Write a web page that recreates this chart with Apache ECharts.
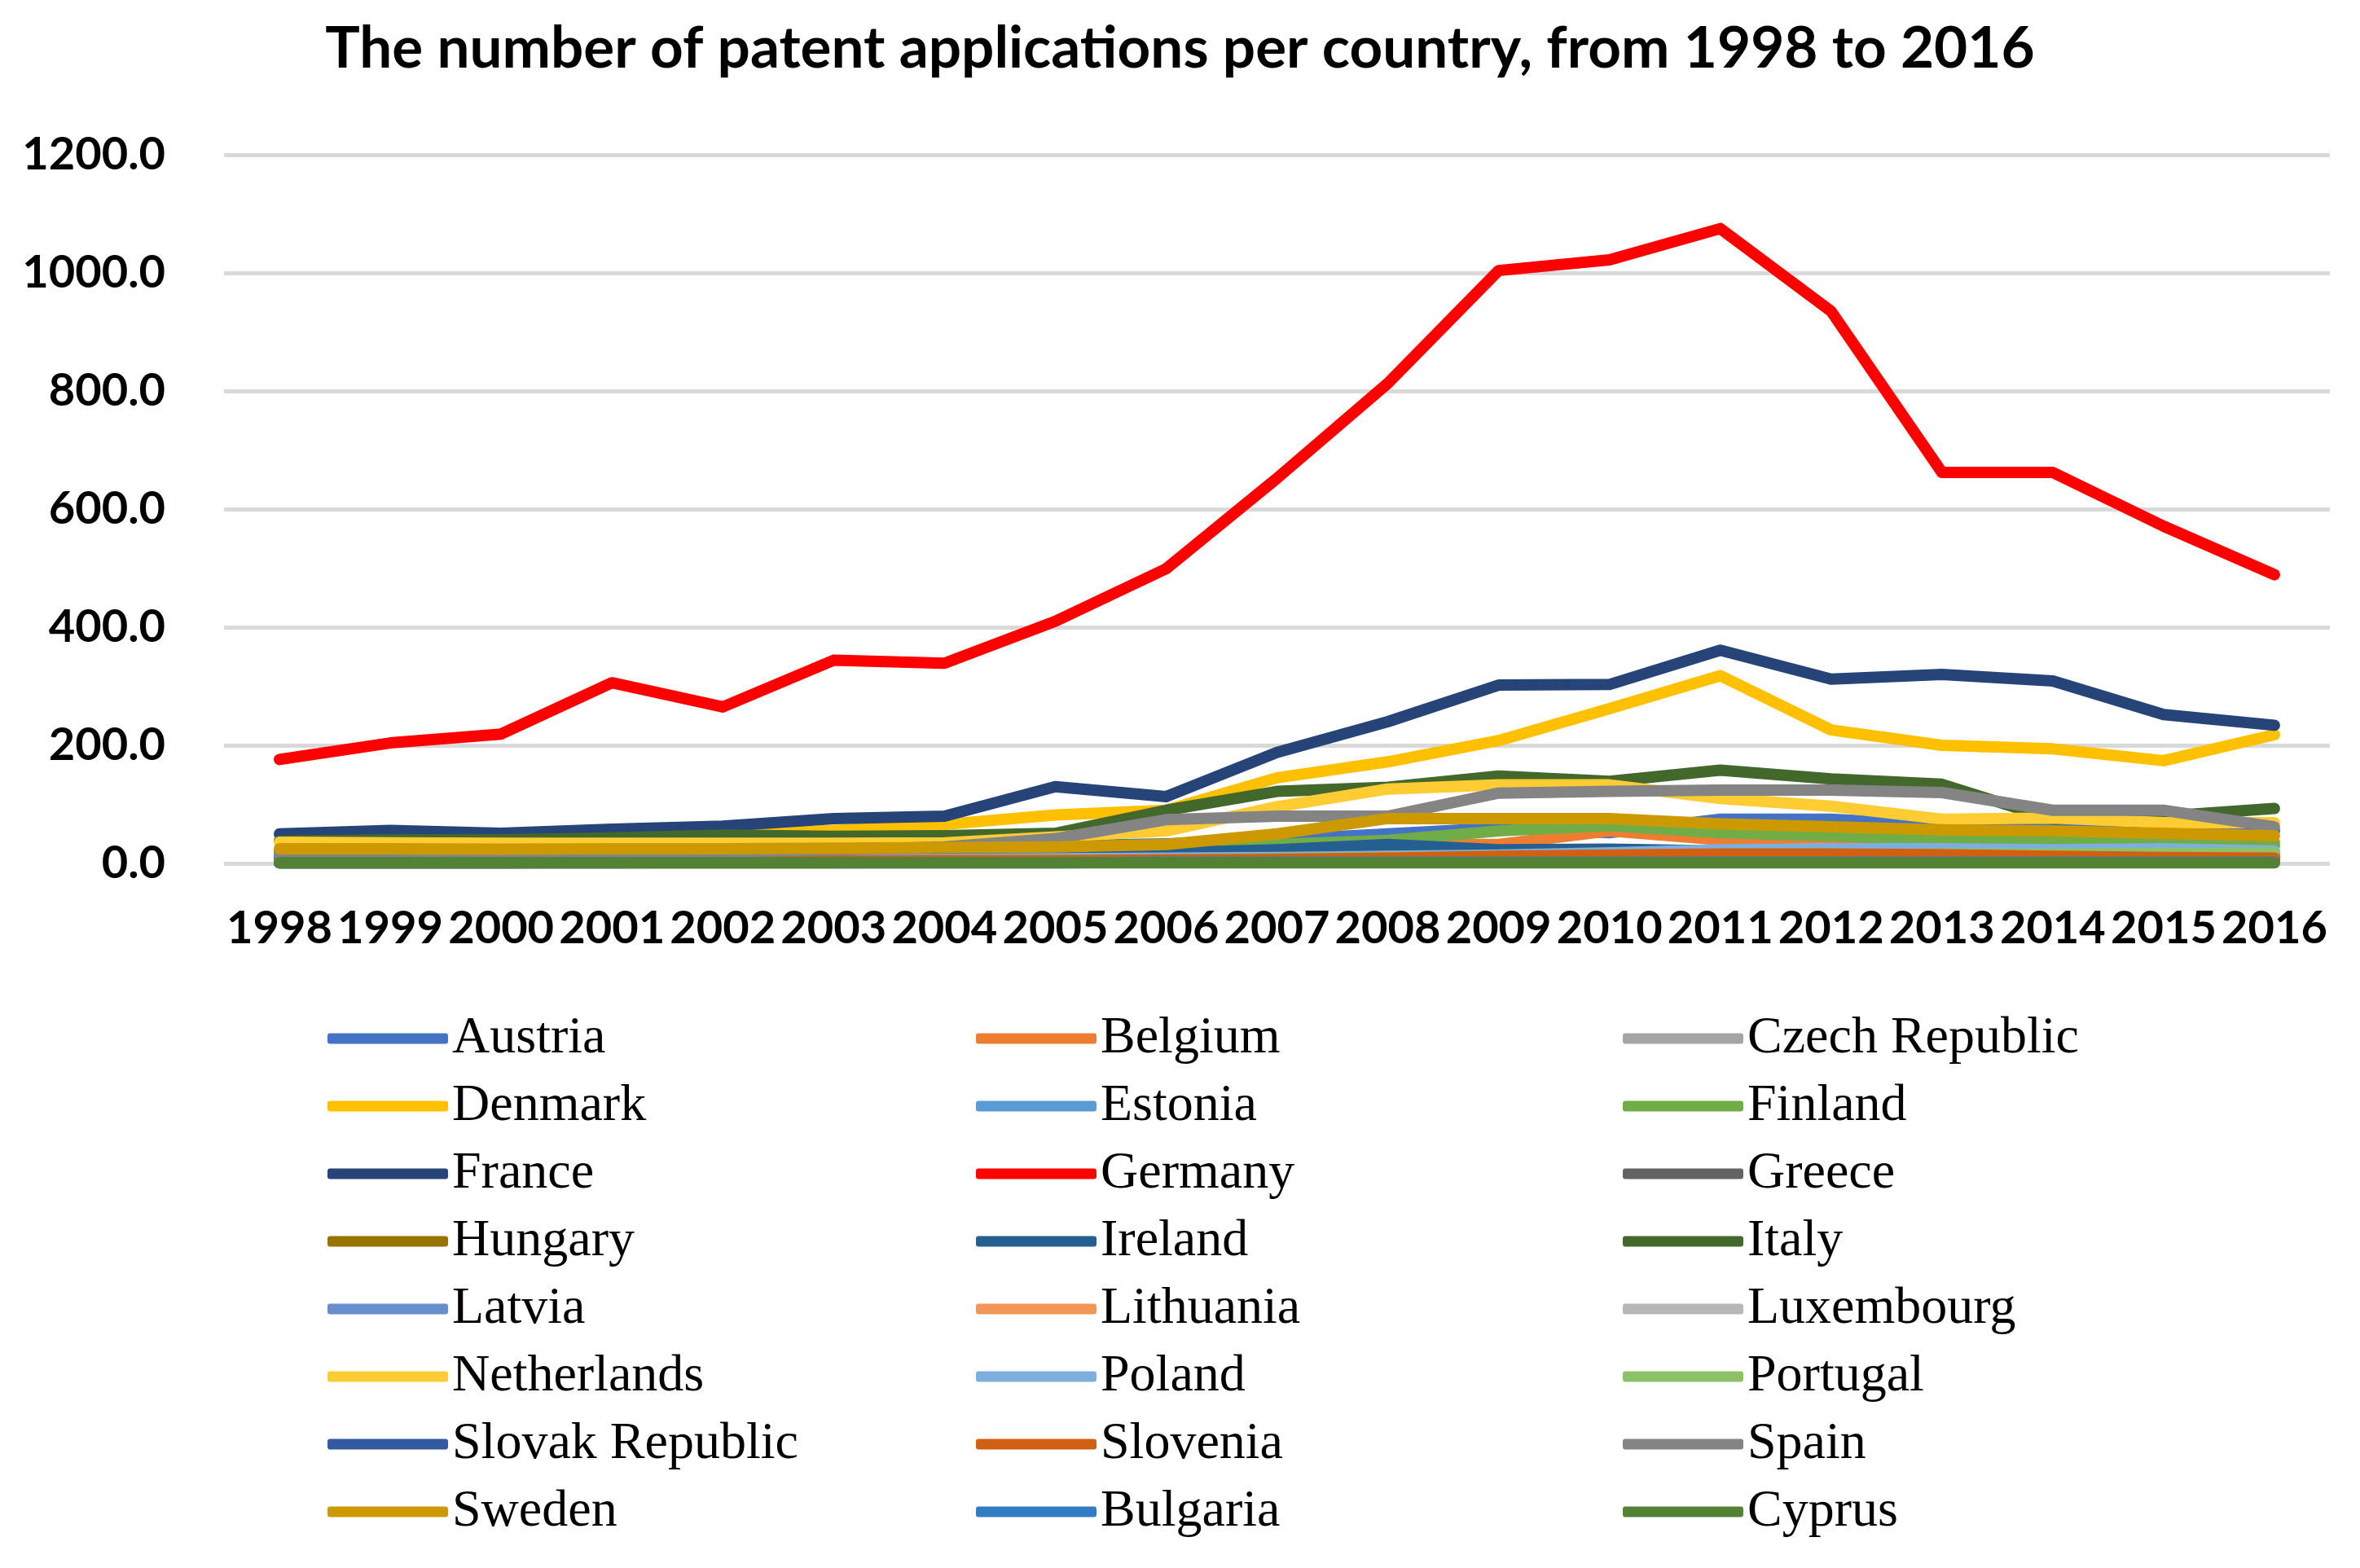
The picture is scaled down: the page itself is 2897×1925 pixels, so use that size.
<!DOCTYPE html>
<html>
<head>
<meta charset="utf-8">
<script src="https://cdn.jsdelivr.net/npm/echarts@6/dist/echarts.min.js"></script>
<style>html,body{margin:0;padding:0;background:#fff}#c{width:2897px;height:1925px}</style>
</head>
<body>
<div id="c"></div>
<script>
var years = ['1998','1999','2000','2001','2002','2003','2004','2005','2006','2007','2008','2009','2010','2011','2012','2013','2014','2015','2016'];
var yTicks = [0, 200, 400, 600, 800, 1000, 1200];

var Austria = [20,22,22,24,25,27,28,30,33,40,50,60,52,75,75,65,60,58,55];
var Belgium = [15,16,17,18,19,20,22,25,28,30,32,32,55,40,44,40,38,37,36];
var CzechRepublic = [8,8,9,9,10,10,11,12,13,14,15,16,16,17,17,18,18,18,18];
var Denmark = [38,40,38,42,48,56,66,82,90,145,172,208,262,318,226,200,194,174,218];
var Estonia = [2,2,2,3,3,3,3,4,4,4,5,5,5,6,6,6,6,6,6];
var Finland = [15,16,16,17,17,18,18,20,24,32,39,55,64,52,47,40,42,36,30];
var France = [50,56,51,58,63,76,80,130,113,188,240,302,303,361,312,320,309,252,234];
var Germany = [176,204,219,306,265,344,339,410,499,652,813,1004,1022,1075,935,662,662,571,489];
var Greece = [4,4,5,5,5,6,6,7,7,8,8,8,7,7,6,6,6,5,5];
var Hungary = [8,8,9,9,10,10,10,11,12,12,13,13,12,12,12,11,11,11,10];
var Ireland = [8,9,10,11,12,13,14,16,18,23,32,23,24,21,20,18,17,16,15];
var Italy = [38,40,40,43,48,46,47,51,90,122,129,148,139,158,143,134,75,80,93];
var Latvia = [1,1,1,1,2,2,2,2,3,3,3,3,3,3,3,3,3,3,3];
var Lithuania = [1,1,1,1,1,1,2,2,2,2,2,3,3,3,3,3,3,3,3];
var Luxembourg = [3,3,3,3,4,4,4,4,5,5,5,6,6,6,6,6,6,6,6];
var Netherlands = [36,35,34,34,34,34,35,45,55,96,126,133,133,110,97,75,77,69,69];
var Poland = [4,4,5,5,6,6,7,8,9,10,12,14,18,23,25,25,23,25,21];
var Portugal = [2,2,2,3,3,3,4,5,6,8,10,12,13,14,15,16,16,17,18];
var SlovakRepublic = [1,1,1,2,2,2,2,2,3,3,3,3,4,4,4,4,4,5,5];
var Slovenia = [3,3,3,4,4,4,5,5,6,7,9,12,14,16,16,15,12,10,9];
var Spain = [14,15,16,18,20,23,28,42,74,80,80,119,122,124,124,120,90,90,62];
var Sweden = [25,25,24,25,25,26,27,28,32,50,76,76,76,67,62,57,55,51,47];
var Bulgaria = [1,1,1,1,1,1,1,1,2,2,2,2,2,2,2,2,2,2,2];
var Cyprus = [1,1,1,1,1,1,1,1,1,1,1,1,1,1,1,1,1,1,1];

var names = ['Austria','Belgium','Czech Republic','Denmark','Estonia','Finland','France','Germany','Greece','Hungary','Ireland','Italy','Latvia','Lithuania','Luxembourg','Netherlands','Poland','Portugal','Slovak Republic','Slovenia','Spain','Sweden','Bulgaria','Cyprus'];
var values = [Austria,Belgium,CzechRepublic,Denmark,Estonia,Finland,France,Germany,Greece,Hungary,Ireland,Italy,Latvia,Lithuania,Luxembourg,Netherlands,Poland,Portugal,SlovakRepublic,Slovenia,Spain,Sweden,Bulgaria,Cyprus];
var colors = ['#4472C4','#ED7D31','#A5A5A5','#FFC000','#5B9BD5','#70AD47','#264478','#FF0000','#636363','#997300','#255E91','#43682B','#698ED0','#F1975A','#B7B7B7','#FFCD33','#7CAFDD','#8CC168','#335AA1','#D26012','#848484','#CC9A00','#327DC2','#548235'];

var series = names.map(function(n, i){
  return {
    name: n, type: 'line', data: values[i], showSymbol: false, symbol: 'none',
    color: colors[i],
    lineStyle: {width: 14, color: colors[i], cap: 'round', join: 'round'}
  };
});

function col(k){ var out=[]; for (var i=k;i<names.length;i+=3) out.push(names[i]); return out; }
var legendLefts = [397, 1193, 1987];
var legends = [0,1,2].map(function(k){
  return {
    data: col(k), orient: 'vertical', left: legendLefts[k], top: 1238,
    icon: 'roundRect', itemWidth: 148, itemHeight: 13, itemGap: 19,
    selectedMode: false,
    textStyle: {fontFamily: 'Liberation Serif', fontSize: 64, lineHeight: 64, color: '#000'}
  };
});

var chart = echarts.init(document.getElementById('c'));
chart.setOption({
  animation: false,
  backgroundColor: '#fff',
  title: {
    text: 'The number of patent applications per country, from 1998 to 2016',
    left: 'center', top: 20,
    textStyle: {fontFamily: 'Lato', fontWeight: 'bold', fontSize: 71, color: '#000'}
  },
  legend: legends,
  grid: {left: 275, right: 37, top: 190, bottom: 865, containLabel: false},
  xAxis: {
    type: 'category', data: years, boundaryGap: true,
    axisLine: {show: false}, axisTick: {show: false},
    axisLabel: {interval: 0, margin: 52, fontFamily: 'Lato', fontWeight: 'bold', fontSize: 56, color: '#000'}
  },
  yAxis: {
    type: 'value', min: yTicks[0], max: yTicks[yTicks.length-1], interval: 200,
    axisLine: {show: false}, axisTick: {show: false},
    splitLine: {lineStyle: {color: '#D9D9D9', width: 5}},
    axisLabel: {margin: 72, fontFamily: 'Lato', fontWeight: 'bold', fontSize: 56, color: '#000',
      formatter: function(v){ return v.toFixed(1); }}
  },
  series: series
});
</script>
</body>
</html>
